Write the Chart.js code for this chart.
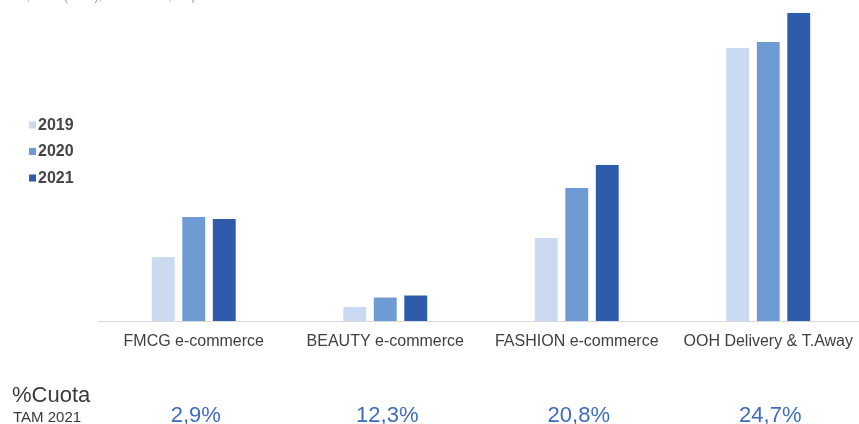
<!DOCTYPE html>
<html>
<head>
<meta charset="utf-8">
<script src="https://cdn.jsdelivr.net/npm/chart.js@4"></script>
<style>
  html, body { margin: 0; padding: 0; background: #fff; overflow: hidden; }
  #wrap { position: relative; width: 866px; height: 424px; }
  #fuente {
    position: absolute; left: -10px; top: -11px;
    font: 12px "Liberation Sans", Arial, sans-serif; color: #999;
    white-space: nowrap;
  }
</style>
</head>
<body>
<div id="wrap">
  <canvas id="grafico"></canvas>
  <div id="fuente">Ventas, Valor (000€), Total Online, 52 periodos</div>
</div>
<script>
const categorias = ["FMCG e-commerce", "BEAUTY e-commerce", "FASHION e-commerce", "OOH Delivery & T.Away"];
const anios = ["2019", "2020", "2021"];
const ventas2019 = [64, 14, 83, 273];
const ventas2020 = [104, 23.5, 133, 279];
const ventas2021 = [102, 25.5, 156, 308];
const cuotaTam = [2.9, 12.3, 20.8, 24.7];
const colores = ["#c9daf1", "#6f9bd4", "#2f5caa"];

const fuenteBase = '"Liberation Sans", Arial, sans-serif';

// leyenda a la izquierda y fila de %Cuota bajo el eje
const extras = {
  id: "extras",
  afterDraw(chart) {
    const ctx = chart.ctx;
    const x = chart.scales.x;
    ctx.save();

    chart.data.datasets.forEach((ds, i) => {
      const yc = 125 + i * 26.5;
      ctx.fillStyle = ds.backgroundColor;
      ctx.fillRect(29, yc - 3.5, 7, 7);
      ctx.fillStyle = "#444";
      ctx.font = "bold 16px " + fuenteBase;
      ctx.textBaseline = "middle";
      ctx.textAlign = "left";
      ctx.fillText(ds.label, 38, yc + 0.5);
    });

    ctx.textBaseline = "alphabetic";
    ctx.fillStyle = "#3a3a3a";
    ctx.font = "22px " + fuenteBase;
    ctx.fillText("%Cuota", 12, 401.5);
    ctx.font = "15px " + fuenteBase;
    ctx.fillText("TAM 2021", 13, 421.5);

    ctx.fillStyle = "#3d6cbf";
    ctx.font = "22px " + fuenteBase;
    ctx.textAlign = "center";
    cuotaTam.forEach((v, i) => {
      const txt = v.toFixed(1).replace(".", ",") + "%";
      ctx.fillText(txt, x.getPixelForValue(i) + 2, 422);
    });
    ctx.restore();
  }
};

new Chart(document.getElementById("grafico"), {
  type: "bar",
  data: {
    labels: categorias,
    datasets: [
      { label: anios[0], data: ventas2019, backgroundColor: colores[0] },
      { label: anios[1], data: ventas2020, backgroundColor: colores[1] },
      { label: anios[2], data: ventas2021, backgroundColor: colores[2] }
    ]
  },
  options: {
    responsive: true,
    maintainAspectRatio: false,
    animation: false,
    barPercentage: 0.75,
    categoryPercentage: 0.478,
    layout: { padding: { left: 98, right: 2, top: 0, bottom: 0 } },
    plugins: {
      legend: { display: false },
      tooltip: { enabled: false }
    },
    scales: {
      x: {
        grid: { display: false, drawTicks: false },
        border: { display: true, color: "#d9d9d9", width: 1 },
        ticks: {
          color: "#404040",
          font: { family: fuenteBase, size: 16 },
          padding: 11,
          maxRotation: 0,
          autoSkip: false
        },
        afterFit(scale) {
          scale.height = 103;
        }
      },
      y: {
        display: false,
        min: 0,
        max: 321
      }
    }
  },
  plugins: [extras]
});
</script>
</body>
</html>
